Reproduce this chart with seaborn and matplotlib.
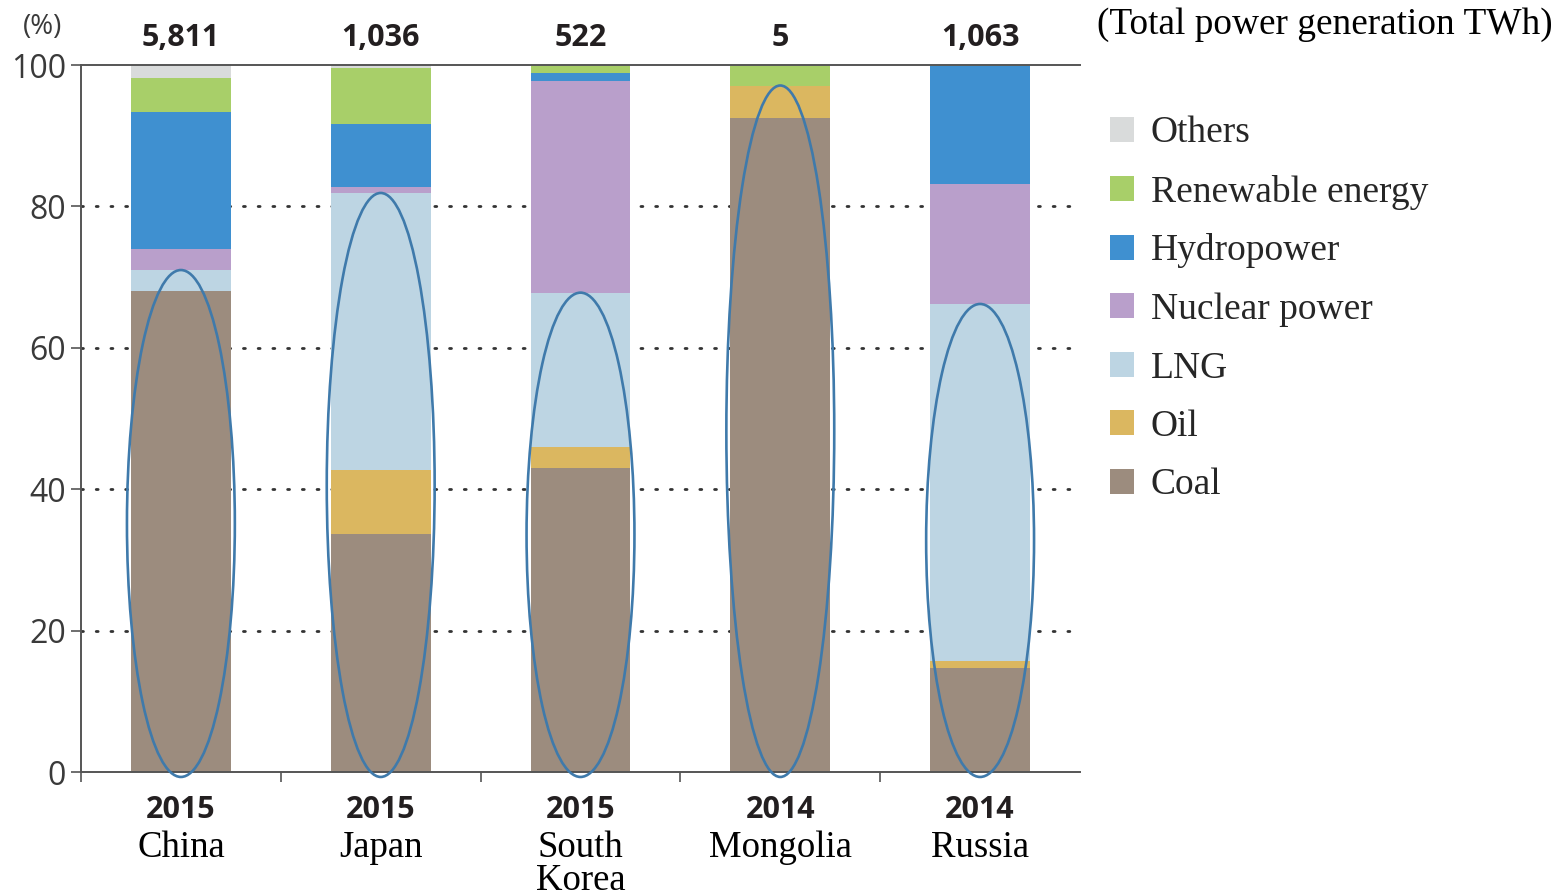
import pandas as pd
import seaborn as sns
import matplotlib.pyplot as plt
from matplotlib.patches import Ellipse, Patch
from matplotlib.ticker import FixedLocator

# %% data (shares of power generation, %)
countries = ['China', 'Japan', 'South\nKorea', 'Mongolia', 'Russia']
years = ['2015', '2015', '2015', '2014', '2014']
totals = ['5,811', '1,036', '522', '5', '1,063']

coal = [68.0, 33.7, 43.0, 92.5, 14.7]
oil = [0.0, 9.0, 3.0, 4.6, 1.0]
lng = [3.0, 39.2, 21.8, 0.0, 50.5]
nuclear = [3.0, 0.8, 29.9, 0.0, 16.9]
hydro = [19.4, 9.0, 1.2, 0.0, 16.8]
renewable = [4.8, 7.9, 1.1, 2.9, 0.1]
others = [1.8, 0.4, 0.0, 0.0, 0.0]

sources = ['Coal', 'Oil', 'LNG', 'Nuclear power', 'Hydropower', 'Renewable energy', 'Others']
colors = ['#9c8c7e', '#dbb760', '#bdd5e3', '#b99fcb', '#3f90d0', '#a8cf69', '#d9dbdb']

# %%
sns.set_style('white')
serif = ['Liberation Serif', 'DejaVu Serif']
sans = ['Open Sans', 'DejaVu Sans']
plt.rcParams['font.family'] = sans

df = pd.DataFrame({'country': countries, 'Coal': coal, 'Oil': oil, 'LNG': lng,
                   'Nuclear power': nuclear, 'Hydropower': hydro,
                   'Renewable energy': renewable, 'Others': others})
cum = df[sources].cumsum(axis=1)
cum['country'] = df['country']

fig = plt.figure(figsize=(15.56, 8.96), dpi=100)
ax = fig.add_axes([81/1556, 124/896, 999/1556, 707/896])

# stacked bars: draw cumulative totals from the top layer down
for src, col in zip(reversed(sources), reversed(colors)):
    sns.barplot(data=cum, x='country', y=src, color=col, width=0.5,
                saturation=1, linewidth=0, errorbar=None, ax=ax, zorder=2)

# ellipses around the fossil fuel share (coal + oil + LNG)
fossil = df['Coal'] + df['Oil'] + df['LNG']
for i, f in enumerate(fossil):
    e = Ellipse((i, (f - 0.7) / 2), width=0.54, height=f + 0.7, fill=False,
                edgecolor='#3f7aab', lw=1.9, zorder=4, clip_on=False)
    ax.add_patch(e)

ax.set_xlim(-0.5, 4.5)
ax.set_ylim(0, 100)
ax.set_xlabel('')
ax.set_ylabel('')

# spines / ticks
for s in ['left', 'bottom', 'top']:
    ax.spines[s].set_color('#555555')
    ax.spines[s].set_linewidth(1.4)
ax.spines['right'].set_visible(False)

ax.set_yticks([0, 20, 40, 60, 80, 100])
ax.tick_params(axis='y', direction='out', length=7, width=1.2, color='#555555',
               labelsize=23, labelcolor='#3a3a3a', pad=4, left=True)
ax.set_xticks(range(len(countries)))
ax.set_xticklabels([''] * len(countries))
ax.tick_params(axis='x', which='major', length=0)
ax.xaxis.set_minor_locator(FixedLocator([-0.5, 0.5, 1.5, 2.5, 3.5]))
ax.tick_params(axis='x', which='minor', direction='out', length=7, width=1.2,
               color='#555555', bottom=True)

# dotted gridlines behind the bars
for yv in [20, 40, 60, 80]:
    ax.axhline(yv, color='#333333', lw=2.0, linestyle=(0, (0.7, 4.6)),
               dash_capstyle='round', zorder=1)

# top totals
for i, t in enumerate(totals):
    ax.annotate(t, xy=(i, 100), xytext=(0, 14), textcoords='offset points',
                ha='center', va='baseline', fontsize=22, fontweight='bold',
                color='#231f20', family=sans)

# x labels: year (bold sans) + country (serif)
for i, (y, c) in enumerate(zip(years, countries)):
    ax.annotate(y, xy=(i, 0), xytext=(0, -33), textcoords='offset points',
                ha='center', va='baseline', fontsize=22, fontweight='bold',
                color='#231f20', family=sans, annotation_clip=False)
    ax.annotate(c, xy=(i, 0), xytext=(0, -42), textcoords='offset points',
                ha='center', va='top', fontsize=26.5, color='black',
                family=serif, linespacing=0.95, annotation_clip=False)

fig.text(43/1556, 1 - 27/896, '(%)', ha='center', va='center',
         fontsize=20, color='#3a3a3a', family=sans)
fig.text(1097/1556, 1 - 25/896, '(Total power generation TWh)', ha='left',
         va='center', fontsize=26.8, color='black', family=serif)

handles = [Patch(facecolor=c, edgecolor='none', label=s)
           for s, c in zip(reversed(sources), reversed(colors))]
fig.legend(handles=handles, loc='upper left',
           bbox_to_anchor=(1110/1556, 1 - 116/896), frameon=False,
           borderpad=0, borderaxespad=0, handlelength=0.64, handleheight=0.64,
           handletextpad=0.45, labelspacing=0.64,
           prop={'family': serif, 'size': 27})

plt.savefig('out.png', dpi=100)
